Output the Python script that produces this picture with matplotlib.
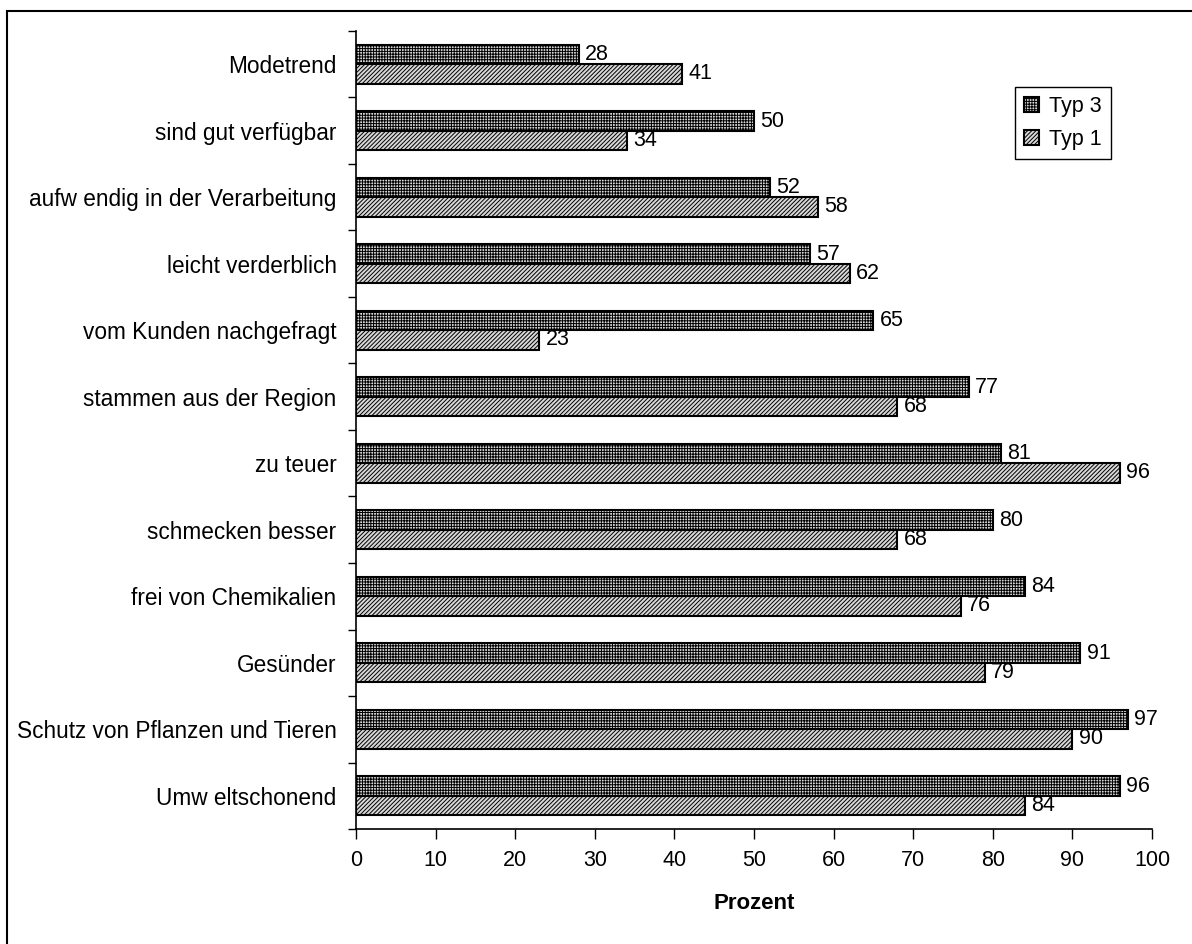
import numpy as np
import matplotlib.pyplot as plt
from matplotlib.patches import Rectangle

plt.rcParams['font.family'] = ['Liberation Sans', 'DejaVu Sans']
plt.rcParams['hatch.linewidth'] = 0.7
plt.rcParams['hatch.color'] = '#222222'

# Kategorien von unten nach oben
kategorien = ["Umw eltschonend", "Schutz von Pflanzen und Tieren", "Gesünder",
              "frei von Chemikalien", "schmecken besser", "zu teuer",
              "stammen aus der Region", "vom Kunden nachgefragt",
              "leicht verderblich", "aufw endig in der Verarbeitung",
              "sind gut verfügbar", "Modetrend"]
typ3 = [96, 97, 91, 84, 80, 81, 77, 65, 57, 52, 50, 28]
typ1 = [84, 90, 79, 76, 68, 96, 68, 23, 62, 58, 34, 41]
x_ticks = [0, 10, 20, 30, 40, 50, 60, 70, 80, 90, 100]


def balken():
    fig = plt.figure(figsize=(11.92, 9.44), dpi=100)
    ax = fig.add_axes([0.2987, 0.1218, 0.6677, 0.8454])

    y = np.arange(len(kategorien))
    h = 0.29
    b3 = ax.barh(y + h / 2, typ3, height=h, color='#d8d8d8', edgecolor='black',
                 linewidth=1.5, hatch='++++++', label='Typ 3')
    b1 = ax.barh(y - h / 2, typ1, height=h, color='#d8d8d8', edgecolor='black',
                 linewidth=1.5, hatch='////////', label='Typ 1')

    # Werte rechts neben die Balken
    for yi, v in zip(y + h / 2, typ3):
        ax.text(v + 0.8, yi, str(v), va='center', ha='left', fontsize=15.5)
    for yi, v in zip(y - h / 2, typ1):
        ax.text(v + 0.8, yi, str(v), va='center', ha='left', fontsize=15.5)

    ax.set_xlim(0, 100)
    ax.set_ylim(-0.5, len(kategorien) - 0.5)
    ax.set_xticks(x_ticks)
    ax.set_xticklabels([str(t) for t in x_ticks], fontsize=15.5)
    ax.set_yticks(y)
    ax.set_yticklabels(kategorien, fontsize=16.3)
    ax.set_yticks(np.arange(len(kategorien) + 1) - 0.5, minor=True)
    ax.tick_params(axis='y', which='major', length=0, pad=14)
    ax.tick_params(axis='y', which='minor', length=6, width=1)
    ax.tick_params(axis='x', length=7, width=1, pad=8)
    for s in ['top', 'right']:
        ax.spines[s].set_visible(False)
    for s in ['left', 'bottom']:
        ax.spines[s].set_linewidth(1.2)

    ax.set_xlabel('Prozent', fontsize=16, fontweight='bold', labelpad=16)

    ax.legend(handles=[b3, b1], loc='upper left',
              bbox_to_anchor=(0.8515, 0.9078), bbox_transform=fig.transFigure,
              borderaxespad=0, fontsize=15.5, fancybox=False,
              edgecolor='black', framealpha=1,
              handlelength=0.7, handleheight=0.7, handletextpad=0.5,
              labelspacing=0.58, borderpad=0.4)

    # Rahmen um das ganze Diagramm
    fig.add_artist(Rectangle((7 / 1192, -0.01), 1.02, 1 - 11 / 944 + 0.01,
                             transform=fig.transFigure, fill=False,
                             edgecolor='black', linewidth=1.5))

    fig.savefig('out.png', dpi=100)


if __name__ == '__main__':
    balken()
